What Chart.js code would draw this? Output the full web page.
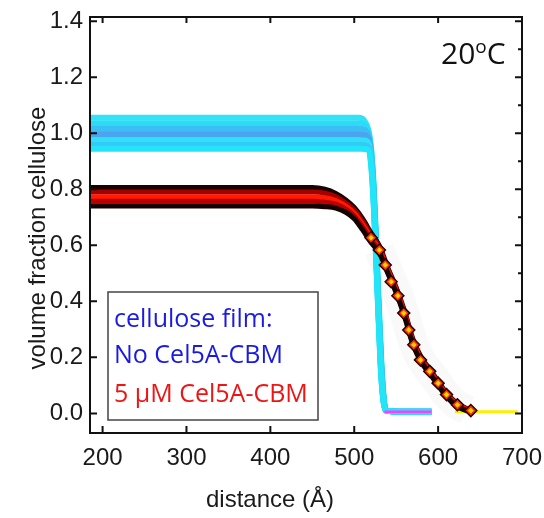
<!DOCTYPE html>
<html>
<head>
<meta charset="utf-8">
<script src="https://cdn.jsdelivr.net/npm/chart.js@4.4.1/dist/chart.umd.min.js"></script>
<style>
  html, body { margin: 0; padding: 0; background: #fff; }
</style>
</head>
<body>
<canvas id="chart" width="544" height="518"></canvas>
<script>
// axis ticks
const xTicks = [200, 300, 400, 500, 600, 700];
const yTicks = [0, 0.2, 0.4, 0.6, 0.8, 1.0, 1.2, 1.4];
const yMinorTicks = [0.1, 0.3, 0.5, 0.7, 0.9, 1.1, 1.3];

// bare cellulose film profiles (distance in Å)
const filmX = [185, 505, 512, 517, 520, 523, 526, 529, 532, 535, 538, 560, 592];
const filmA = [1.055, 1.055, 1.045, 1.01, 0.95, 0.82, 0.62, 0.40, 0.20, 0.06, 0.01, 0.006, 0.006];
const filmB = [1.035, 1.035, 1.03, 1.0, 0.94, 0.81, 0.61, 0.39, 0.19, 0.055, 0.01, 0.006, 0.006];
const filmC = [1.015, 1.015, 1.012, 0.99, 0.93, 0.80, 0.60, 0.38, 0.18, 0.05, 0.01, 0.006, 0.006];
const filmD = [0.995, 0.995, 0.993, 0.98, 0.92, 0.79, 0.59, 0.37, 0.17, 0.05, 0.01, 0.006, 0.006];
const filmE = [0.975, 0.975, 0.974, 0.965, 0.91, 0.78, 0.58, 0.36, 0.16, 0.045, 0.01, 0.006, 0.006];
const filmF = [0.958, 0.958, 0.957, 0.95, 0.90, 0.77, 0.57, 0.35, 0.15, 0.04, 0.01, 0.006, 0.006];
const filmG = [0.945, 0.945, 0.944, 0.94, 0.89, 0.76, 0.56, 0.34, 0.14, 0.04, 0.01, 0.006, 0.006];
const baseX = [536, 592];
const baseY = [0.006, 0.006];

// film after 5 uM Cel5A-CBM
const enzX = [185, 450, 465, 478, 490, 500, 510, 520, 530, 540, 550, 560, 570, 580, 590, 600, 610, 622, 635];
const enzTop = [0.806, 0.806, 0.80, 0.785, 0.762, 0.735, 0.695, 0.645, 0.598, 0.52, 0.45, 0.365, 0.265, 0.20, 0.158, 0.115, 0.073, 0.037, 0.015];
const enzUpper = [0.79, 0.79, 0.786, 0.773, 0.751, 0.725, 0.685, 0.637, 0.592, 0.515, 0.445, 0.36, 0.26, 0.195, 0.154, 0.112, 0.07, 0.035, 0.013];
const enzMid = [0.773, 0.773, 0.77, 0.76, 0.74, 0.715, 0.675, 0.628, 0.585, 0.51, 0.44, 0.355, 0.255, 0.19, 0.15, 0.108, 0.067, 0.032, 0.012];
const enzLower = [0.757, 0.757, 0.754, 0.747, 0.729, 0.705, 0.665, 0.619, 0.578, 0.505, 0.435, 0.35, 0.25, 0.186, 0.146, 0.104, 0.064, 0.029, 0.01];
const enzBottom = [0.74, 0.74, 0.738, 0.733, 0.718, 0.695, 0.655, 0.61, 0.572, 0.50, 0.43, 0.345, 0.245, 0.182, 0.142, 0.10, 0.06, 0.026, 0.008];
const markX = [520, 530, 537, 544, 552, 559, 565, 571, 579, 590, 600, 610, 623, 639];
const markY = [0.627, 0.583, 0.53, 0.47, 0.42, 0.358, 0.298, 0.245, 0.191, 0.15, 0.108, 0.067, 0.031, 0.01];
const tailX = [620, 695];
const tailY = [0.006, 0.006];

const pts = (xs, ys) => xs.map((x, i) => ({ x, y: ys[i] }));

function curve(xs, ys, color, width) {
  return {
    data: pts(xs, ys),
    showLine: true,
    borderColor: color,
    borderWidth: width,
    pointRadius: 0,
    cubicInterpolationMode: 'monotone',
    fill: false
  };
}

function markers(xs, ys, fill, border, radius) {
  return {
    data: pts(xs, ys),
    showLine: false,
    pointStyle: 'rectRot',
    pointRadius: radius,
    backgroundColor: fill,
    borderColor: border,
    borderWidth: border ? 1.5 : 0
  };
}

// first dataset ends up on top
const datasets = [
  markers(markX, markY, '#ffd400', null, 2.8),
  markers(markX, markY, '#ff3300', '#2a0000', 6),
  curve(enzX, enzBottom, '#140000', 5),
  curve(enzX, enzLower, '#b80000', 5),
  curve(enzX, enzMid, '#ff1a00', 5),
  curve(enzX, enzUpper, '#a30000', 5),
  curve(enzX, enzTop, '#1a0000', 5),
  curve(tailX, tailY, '#ffee00', 3),
  curve(baseX, baseY, '#ff3cff', 2.5),
  curve(filmX, filmG, '#22e6f8', 6),
  curve(filmX, filmF, '#36c8f6', 6),
  curve(filmX, filmE, '#2ee0f8', 6),
  curve(filmX, filmD, '#4aa4ef', 6),
  curve(filmX, filmC, '#3cbdf4', 6),
  curve(filmX, filmB, '#2cdcf7', 6),
  curve(filmX, filmA, '#33e2f6', 6),
  curve(enzX.slice(8), enzMid.slice(8), 'rgba(0,0,0,0.022)', 30)
];

const decorations = {
  id: 'decorations',
  afterDatasetsDraw(chart) {
    const { ctx, chartArea: a, scales: { x, y } } = chart;
    ctx.save();
    ctx.strokeStyle = '#111';
    ctx.lineWidth = 2;
    ctx.strokeRect(a.left, a.top, a.right - a.left, a.bottom - a.top);

    ctx.beginPath();
    xTicks.forEach(v => {
      const px = x.getPixelForValue(v);
      ctx.moveTo(px, a.bottom); ctx.lineTo(px, a.bottom - 7);
      ctx.moveTo(px, a.top); ctx.lineTo(px, a.top + 6);
    });
    yTicks.forEach(v => {
      const py = y.getPixelForValue(v);
      ctx.moveTo(a.left, py); ctx.lineTo(a.left + 7, py);
      ctx.moveTo(a.right, py); ctx.lineTo(a.right - 7, py);
    });
    yMinorTicks.forEach(v => {
      const py = y.getPixelForValue(v);
      ctx.moveTo(a.right, py); ctx.lineTo(a.right - 4, py);
    });
    ctx.stroke();

    // legend box
    ctx.fillStyle = '#fff';
    ctx.fillRect(108, 292, 210, 128);
    ctx.strokeStyle = '#444';
    ctx.lineWidth = 1.5;
    ctx.strokeRect(108, 292, 210, 128);
    ctx.font = '25px "Open Sans"';
    ctx.textBaseline = 'middle';
    ctx.textAlign = 'left';
    ctx.fillStyle = '#1a1ae0';
    ctx.fillText('cellulose film:', 114, 320);
    ctx.fillText('No Cel5A-CBM', 114, 356);
    ctx.fillStyle = '#ee1515';
    ctx.fillText('5 µM Cel5A-CBM', 114, 395);

    // temperature
    ctx.fillStyle = '#111';
    ctx.font = '30px "Open Sans"';
    ctx.textBaseline = 'alphabetic';
    ctx.fillText('20', 441, 64);
    let w = ctx.measureText('20').width;
    ctx.font = '19px "Open Sans"';
    ctx.fillText('o', 441 + w, 53);
    w += ctx.measureText('o').width;
    ctx.font = '30px "Open Sans"';
    ctx.fillText('C', 441 + w, 64);

    // axis titles
    ctx.font = '24px "Liberation Sans"';
    ctx.textAlign = 'center';
    ctx.textBaseline = 'middle';
    ctx.fillStyle = '#1a1a1a';
    ctx.fillText('distance (Å)', 270, 500);
    ctx.translate(38, 238);
    ctx.rotate(-Math.PI / 2);
    ctx.fillText('volume fraction cellulose', 0, 0);
    ctx.restore();
  }
};

new Chart(document.getElementById('chart'), {
  type: 'scatter',
  data: { datasets },
  plugins: [decorations],
  options: {
    responsive: false,
    animation: false,
    layout: { padding: { top: 17, right: 22, left: 0, bottom: 0 } },
    plugins: { legend: { display: false }, tooltip: { enabled: false } },
    scales: {
      x: {
        type: 'linear',
        min: 185,
        max: 700,
        afterFit: s => { s.height = 85; s.paddingLeft = 0; s.paddingRight = 0; },
        afterBuildTicks: s => { s.ticks = xTicks.map(v => ({ value: v })); },
        grid: { display: false, drawTicks: false },
        border: { display: false },
        ticks: {
          padding: 11,
          color: '#1a1a1a',
          font: { family: 'Liberation Sans', size: 24 },
          maxRotation: 0,
          autoSkip: false
        }
      },
      y: {
        type: 'linear',
        min: -0.07,
        max: 1.415,
        afterFit: s => { s.width = 90; s.paddingTop = 0; s.paddingBottom = 0; },
        afterBuildTicks: s => { s.ticks = yTicks.map(v => ({ value: v })); },
        grid: { display: false, drawTicks: false },
        border: { display: false },
        ticks: {
          padding: 7,
          color: '#1a1a1a',
          font: { family: 'Liberation Sans', size: 24 },
          callback: v => v.toFixed(1),
          autoSkip: false
        }
      }
    }
  }
});
</script>
</body>
</html>
